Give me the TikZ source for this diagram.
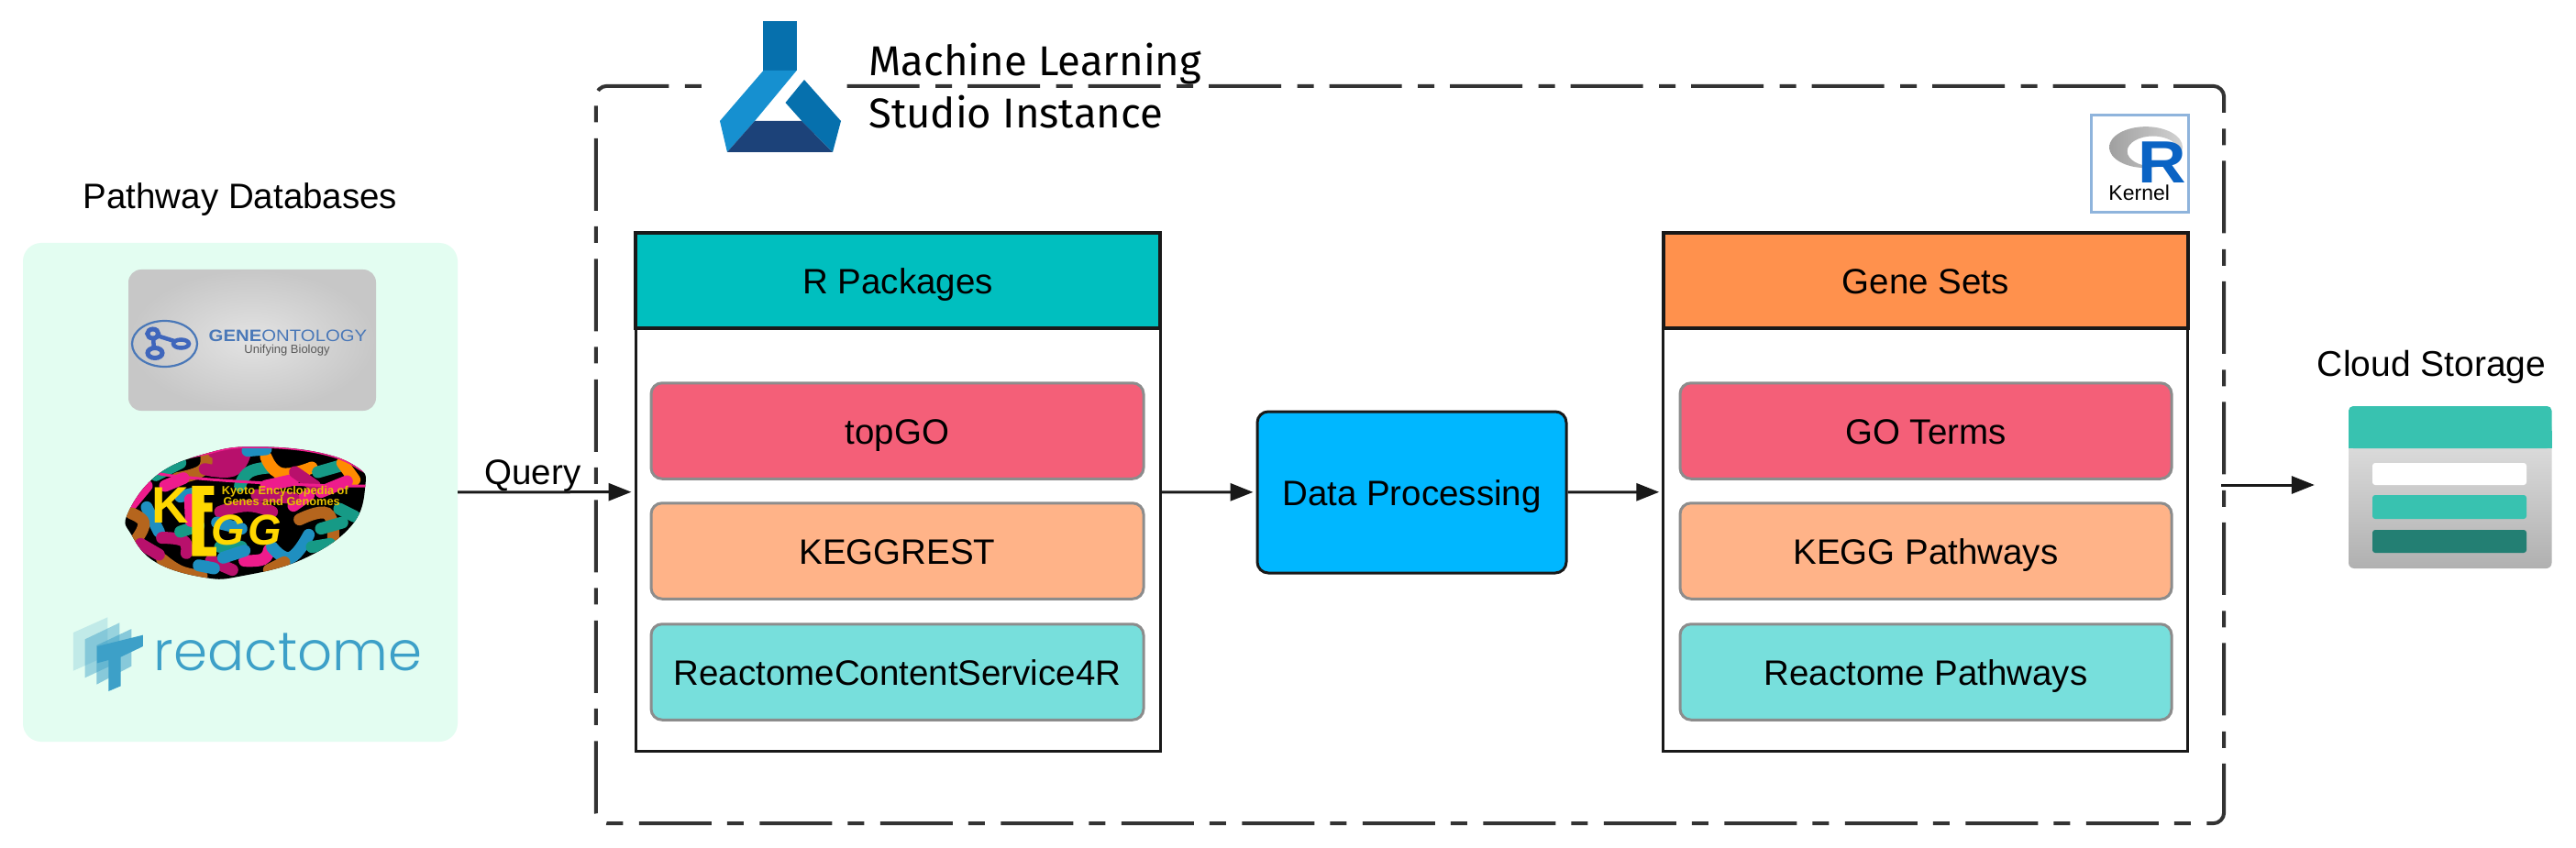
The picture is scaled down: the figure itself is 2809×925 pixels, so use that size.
\documentclass[tikz,border=0pt]{standalone}
\usepackage{fontspec}
\setmainfont{Liberation Sans}
\newfontfamily\mlfont{Fira Sans}
\newfontfamily\reactfont{Poppins}[UprightFont=* Light]
\usetikzlibrary{arrows.meta,shapes.geometric}
\definecolor{panelbg}{HTML}{E3FDF1}
\definecolor{hteal}{HTML}{00BFBF}
\definecolor{horange}{HTML}{FF914D}
\definecolor{ipink}{HTML}{F45F78}
\definecolor{ipeach}{HTML}{FFB388}
\definecolor{iaqua}{HTML}{77DFDC}
\definecolor{dpblue}{HTML}{00B7FF}
\definecolor{igray}{HTML}{8C8C8C}
\definecolor{flaska}{HTML}{0670AD}
\definecolor{flaskb}{HTML}{1690D0}
\definecolor{flaskc}{HTML}{1C4279}
\definecolor{cldt}{HTML}{38C2B0}
\definecolor{cldd}{HTML}{237F73}
\definecolor{kbrown}{HTML}{B5651D}
\definecolor{kmag}{HTML}{B8106C}
\definecolor{khot}{HTML}{EE1C8C}
\definecolor{kteal}{HTML}{169A86}
\definecolor{kor}{HTML}{FF8C00}
\definecolor{kblue}{HTML}{1F8FC0}
\definecolor{kyel}{HTML}{FFD800}
\definecolor{reblue}{HTML}{3DA0C8}
\definecolor{goblue}{HTML}{3F66BC}
\definecolor{gotext}{HTML}{4A78B8}
\definecolor{rblue}{HTML}{0A63C4}
\definecolor{badge}{HTML}{8FB4DC}
\newcommand\kegarc[2]{\draw[line width=13pt,line cap=round,#1] plot[smooth,tension=.8] coordinates {#2};}
\newcommand\fs[1]{\fontsize{#1}{#1}\selectfont}
\tikzset{
  label text/.style={inner sep=0pt,font=\fs{38.5},anchor=base},
  framebox/.style={draw=black!90,line width=3pt,fill=white,inner sep=0pt,minimum width=572pt,minimum height=565pt},
  headbox/.style={draw=black!90,line width=4pt,inner sep=0pt,minimum width=572pt,minimum height=103pt,text height=28pt,text depth=0pt,font=\fs{38.5}},
  itembox/.style={draw=igray,line width=3pt,rounded corners=12pt,inner sep=0pt,minimum height=104.5pt,text height=28pt,text depth=0pt,font=\fs{38.5}},
  flow/.style={line width=3pt,draw=black!90,-{Triangle[length=25pt,width=19pt]},shorten >=3pt},
  instline/.style={line width=4pt,draw=black!80,rounded corners=12pt,dash pattern=on 79pt off 17.5pt on 18pt off 17pt},
}
\begin{document}
\begin{tikzpicture}[x=1pt,y=-1pt]
\useasboundingbox (0,0) rectangle (2809,925);
\fill[white] (0,0) rectangle (2809,925);

% ML instance frame
\node[inner sep=0pt,minimum width=1775pt,minimum height=804pt] (inst) at (1537.5,496) {};
\coordinate (gapl) at (773,94);
\coordinate (gapr) at (923.5,94);
\draw[instline] (gapr) -- (inst.north east) -- (inst.south east) -- (inst.south west) -- (inst.north west) -- (gapl);

% flask
\fill[flaska] (832.4,23) rectangle (868.6,77);
\fill[flaskb] (832.4,77) -- (868.6,77) -- (823,132) -- (793,166) -- (785,132) -- cycle;
\fill[flaskc] (823,132) -- (874.4,132) -- (908,166) -- (793,166) -- cycle;
\fill[flaska] (877,87) -- (917,132) -- (908,166) -- (874.4,132) -- (856.5,112) -- cycle;
\node[anchor=base west,inner sep=0pt,align=left,font=\mlfont\fontsize{45.5}{57}\selectfont] (mltitle) at (947,140) {Machine Learning\\Studio Instance};

% pathway panel
\node[fill=panelbg,rounded corners=20pt,inner sep=0pt,minimum width=474pt,minimum height=544pt] (panel) at (262,537) {};
\node[label text] (pathtitle) at (262,228) {Pathway Databases};

% GO card
\shade[rounded corners=14pt,inner color=gray!22,outer color=gray!44] (140,294) rectangle (410,448);
\draw[gotext,line width=2.2pt] (179.5,375) ellipse [x radius=35.5pt,y radius=25pt];
\draw[goblue,line width=5pt] (166.7,364) ellipse [x radius=6pt,y radius=5pt];
\draw[goblue,line width=5pt] (169,385) ellipse [x radius=8pt,y radius=5.5pt];
\draw[goblue,line width=4.5pt] (197.5,375) ellipse [x radius=8.5pt,y radius=4.5pt];
\draw[goblue,line width=4.5pt] (167,368) -- (168,381) (171,366) -- (190,372);
\node[anchor=base,inner sep=0pt,text=gotext] (goname) at (314,373) {\scalebox{1.13}[1]{\fs{18}\textbf{GENE}ONTOLOGY}};
\node[anchor=base,inner sep=0pt,text=black!65,font=\fs{13}] (gosub) at (313,385) {Unifying Biology};

% KEGG blob (coordinates in a finer grid)
\begin{scope}[shift={(130,480)},x=.3333pt,y=-.3333pt]
\begin{scope}
\clip plot[smooth cycle,tension=.7] coordinates {(28,240) (130,110) (300,40) (450,22) (650,40) (780,90) (805,150) (760,280) (600,390) (400,445) (280,450) (120,400) (40,310)};
\fill[black] (0,0) rectangle (840,480);
\fill[kmag] (280,60) -- (420,30) -- (410,90) -- (300,120) -- cycle;
\kegarc{kbrown}{(190,125) (270,100) (285,55)}
\kegarc{kmag}{(280,95) (370,100) (410,50)}
\kegarc{kmag}{(310,40) (420,35)}
\kegarc{kteal}{(120,115) (200,75)}
\kegarc{kteal}{(395,150) (425,105) (490,90)}
\kegarc{kor}{(480,55) (530,110) (630,90)}
\kegarc{kteal}{(650,105) (720,85)}
\kegarc{kor}{(730,75) (770,130)}
\kegarc{khot}{(660,170) (745,135)}
\kegarc{kblue}{(420,35) (480,30)}
\kegarc{kblue}{(90,220) (130,300)}
\kegarc{khot}{(40,210) (90,150)}
\kegarc{kbrown}{(40,240) (80,270) (60,320)}
\kegarc{kbrown}{(590,260) (680,240) (700,320)}
\kegarc{kteal}{(720,225) (770,250)}
\kegarc{kmag}{(140,320) (210,330) (220,370)}
\kegarc{kbrown}{(140,390) (200,430) (270,445)}
\kegarc{kmag}{(300,395) (370,425)}
\kegarc{kblue}{(260,410) (310,420)}
\kegarc{khot}{(410,395) (470,390) (490,360)}
\kegarc{kblue}{(500,350) (560,385) (620,310)}
\kegarc{khot}{(570,215) (620,180)}
\kegarc{kblue}{(200,185) (260,170)}
\kegarc{kteal}{(200,300) (260,280)}
\kegarc{kmag}{(330,235) (420,215) (500,235)}
\kegarc{kbrown}{(490,425) (540,400)}
\kegarc{kteal}{(630,350) (690,340)}
\kegarc{kmag}{(70,340) (130,375)}
\kegarc{khot}{(232,195) (235,265)}
\kegarc{khot}{(480,150) (570,130)}
\kegarc{kmag}{(575,105) (640,150)}
\kegarc{kteal}{(330,350) (400,350)}
\kegarc{kblue}{(340,385) (410,362)}
\kegarc{kmag}{(450,180) (570,190)}
\kegarc{kteal}{(660,290) (730,270)}
\kegarc{kblue}{(320,270) (400,290)}
\kegarc{khot}{(150,150) (210,125)}
\draw[khot,line width=3pt] plot[smooth cycle,tension=.7] coordinates {(130,110) (300,40) (450,22) (650,40) (780,90) (805,150)};
\end{scope}
\node[anchor=base west,inner sep=0pt,text=kyel,font=\bfseries\fs{56}] (kk) at (106,272) {K};
\fill[kyel] (238,150) -- (310,150) -- (310,180) -- (278,180) -- (278,205) -- (305,205) -- (305,235) -- (278,235) -- (278,350) -- (318,350) -- (318,380) -- (238,380) -- cycle;
\node[anchor=base west,inner sep=0pt,text=kyel,font=\bfseries\itshape\fs{47}] (kgg) at (300,345) {G\kern4ptG};
\node[anchor=base west,inner sep=0pt,text=kyel!90!black,font=\bfseries\fs{12.8}] (kline) at (335,178) {Kyoto Encyclopedia of};
\node[anchor=base west,inner sep=0pt,text=kyel!90!black,font=\bfseries\fs{12.8}] (klinb) at (340,215) {Genes and Genomes};
\end{scope}

% Reactome
\begin{scope}[shift={(70,660)},x=.3333pt,y=-.3333pt]
\fill[reblue,opacity=.2] (30,90) -- (142,40) -- (142,165) -- (30,215) -- cycle;
\fill[reblue,opacity=.45] (68,112) -- (181,58) -- (181,185) -- (68,238) -- cycle;
\fill[reblue,opacity=.55] (106,132) -- (220,78) -- (220,200) -- (106,260) -- cycle;
\fill[reblue] (108,135) -- (258,98) -- (258,135) -- (185,170) -- (185,265) -- (145,282) -- (145,180) -- (108,190) -- cycle;
\node[anchor=base west,inner sep=0pt,text=reblue,font=\reactfont\fs{59.5}] (reactname) at (293,215) {reactome};
\end{scope}

% R package box
\node[framebox] (rbox) at (979,536.5) {};
\node[headbox,fill=hteal,anchor=north] (rhead) at (rbox.north) {R Packages};
\node[itembox,fill=ipink,minimum width=537pt] (topgo) at (978.5,470) {topGO};
\node[itembox,fill=ipeach,minimum width=537pt] (keggrest) at (978.5,601) {KEGGREST};
\node[itembox,fill=iaqua,minimum width=537pt] (reactcs) at (978.5,733) {ReactomeContentService4R};

% Data processing
\node[draw=black!90,fill=dpblue,line width=3pt,rounded corners=12pt,inner sep=0pt,minimum width=337pt,minimum height=176pt,text height=28pt,text depth=0pt,font=\fs{38.5}] (dproc) at (1539.5,537) {Data Processing};

% Gene set box
\node[framebox] (gbox) at (2099.75,536.5) {};
\node[headbox,fill=horange,anchor=north] (ghead) at (gbox.north) {Gene Sets};
\node[itembox,fill=ipink,minimum width=536pt] (goterms) at (2100,470) {GO Terms};
\node[itembox,fill=ipeach,minimum width=536pt] (keggpath) at (2100,601) {KEGG Pathways};
\node[itembox,fill=iaqua,minimum width=536pt] (reactpath) at (2100,733) {Reactome Pathways};

% R kernel badge
\node[draw=badge,fill=white,line width=3pt,inner sep=0pt,minimum width=106pt,minimum height=106pt] (rbadge) at (2333,178.5) {};
\begin{scope}[shift={(2270,115)},x=.3333pt,y=-.3333pt]
\shade[left color=gray!75,right color=gray!35,even odd rule] (210,137) ellipse [x radius=40pt,y radius=22.5pt] (233,150) ellipse [x radius=28pt,y radius=16.5pt];
\node[anchor=base west,inner sep=0pt,text=rblue,font=\bfseries\fs{65}] (rletter) at (183,255) {\scalebox{1.12}[1]{R}};
\end{scope}
\node[anchor=base,inner sep=0pt,font=\fs{23}] (kernel) at (2332.7,219) {Kernel};

% Query
\node[label text] (query) at (581,528.6) {Query};

% Cloud storage
\node[label text,font=\fs{39}] (cloudtitle) at (2651.5,410) {Cloud Storage};
\node[inner sep=0pt,minimum width=255pt,minimum height=186pt] (cloud) at (2654.5,529) {};
\shade[top color=gray!22,bottom color=gray!62,rounded corners=6pt] (2561,460) rectangle (2782.5,620);
\fill[cldt,rounded corners=5pt] (2561,443) rectangle (2782.5,489);
\fill[cldt] (2561,470) rectangle (2782.5,489);
\fill[white,rounded corners=3pt] (2587,505) rectangle (2755,529);
\fill[cldt,rounded corners=3pt] (2587,540) rectangle (2755,566);
\fill[cldd,rounded corners=3pt] (2587,578) rectangle (2755,603);

% connectors
\draw[flow] (panel) -- (rbox);
\draw[flow] (rbox) -- (dproc);
\draw[flow] (dproc) -- (gbox);
\draw[flow] ([xshift=-3pt]inst.east |- cloud.west) -- (cloud.west);
\end{tikzpicture}
\end{document}
